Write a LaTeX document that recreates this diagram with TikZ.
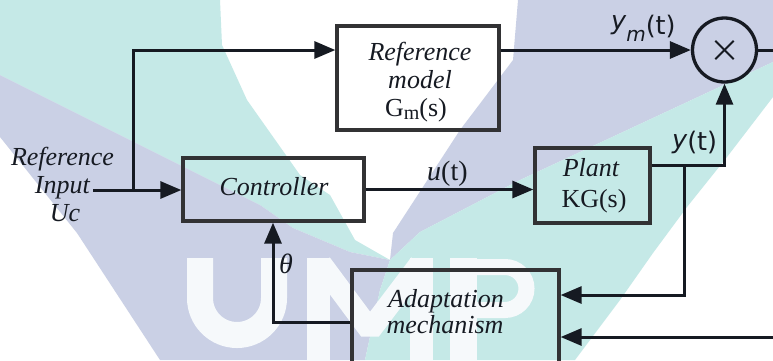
\documentclass[tikz,border=0pt]{standalone}
\usepackage{fontspec}
\setmainfont{Liberation Serif}
\newfontfamily\sigfam{DejaVu Sans}
\usetikzlibrary{arrows.meta}

\definecolor{wmteal}{RGB}{197,233,231}
\definecolor{wmlav}{RGB}{202,208,229}
\definecolor{wmwhite}{RGB}{246,249,251}
\definecolor{ink}{RGB}{22,26,34}
\definecolor{boxline}{RGB}{50,50,52}

\begin{document}
\begin{tikzpicture}[x=1pt,y=-1pt,
  wire/.style={line width=3pt, draw=ink},
  arr/.style={wire, -{Triangle[length=21pt,width=17pt]}},
  blk/.style={draw=boxline, line width=3.3pt, inner sep=0pt},
  lbl/.style={inner sep=0pt, text=ink, font=\fontsize{26}{28}\selectfont\itshape},
  lblup/.style={inner sep=0pt, text=ink, font=\fontsize{26}{28}\selectfont},
  sig/.style={inner sep=0pt, anchor=base west, text=ink, font=\fontsize{28}{28}\selectfont},
  sigsans/.style={sig, font=\sigfam\fontsize{25.5}{25.5}\selectfont},
]
\path[use as bounding box] (0,0) rectangle (773,360);
\clip (0,0) rectangle (773,360);

% background logo bands
\fill[white] (0,0) rectangle (773,360);
\fill[wmteal] (0,0) -- (220,0) -- (222,45) -- (247,100) -- (300,175) -- (330,195)
  -- (355,240) -- (390,260) -- (350,252) -- (293,228) -- (260,205) -- (130,140) -- (0,75) -- cycle;
\fill[wmlav] (0,75) -- (130,140) -- (260,205) -- (293,228) -- (350,252) -- (390,260)
  -- (380,290) -- (365,360) -- (160,360) -- (77,233) -- (0,137) -- cycle;
\fill[wmlav] (518,0) -- (773,0) -- (773,62) -- (520,180) -- (420,232) -- (390,260)
  -- (393,233) -- (460,130) -- (513,60) -- cycle;
\fill[wmteal] (390,260) -- (420,232) -- (520,180) -- (773,62) -- (773,97) -- (727,157)
  -- (687,207) -- (653,253) -- (620,300) -- (575,360) -- (365,360) -- (380,290) -- cycle;

% letters of the logo
\begin{scope}[wmwhite]
  \draw[line width=26pt] (200,258) -- (200,298) arc[start angle=180, end angle=360, radius=37pt] -- (274,258);
  \fill (307,258) rectangle (330,360);
  \fill (410,258) rectangle (433,360);
  \draw[line width=22pt, line join=bevel] (321,264) -- (370,330) -- (420,264);
  \fill (450,258) rectangle (477,360);
  \draw[line width=16pt] (463,267) -- (505,267) arc[start angle=90, end angle=-90, radius=21.5pt] -- (463,310);
\end{scope}

% blocks
\node[blk, minimum width=162pt, minimum height=104pt] (refmod) at (418,78) {};
\node[blk, minimum width=181pt, minimum height=63pt] (ctrl) at (273.5,189.5) {};
\node[blk, minimum width=115pt, minimum height=75pt] (plant) at (592.5,185.5) {};
\node[blk, minimum width=207pt, minimum height=130pt] (adapt) at (455.5,335) {};
\node[draw=ink, circle, line width=3.3pt, minimum size=64pt, inner sep=0pt] (cmp) at (724.5,50) {};
\draw[ink, line width=2pt] ([shift={(45:13pt)}]cmp.center) -- ([shift={(225:13pt)}]cmp.center);
\draw[ink, line width=2pt] ([shift={(135:13pt)}]cmp.center) -- ([shift={(315:13pt)}]cmp.center);

% block texts
\node[lbl, anchor=base] (riA) at (62.5,165) {Reference};
\node[lbl, anchor=base east] (riB) at (90,193) {Input};
\node[lbl, anchor=base] (riC) at (65,221) {Uc};
\node[lbl, anchor=base] (rmA) at (420,60) {Reference};
\node[lbl, anchor=base] (rmB) at (420,88) {model};
\node[lblup, anchor=base] (rmC) at (416,116) {G\raisebox{-3pt}{\fontsize{20}{20}\selectfont m}(s)};
\node[lbl, anchor=base] (ctA) at (274,195) {Controller};
\node[lbl, anchor=base] (plA) at (591,176) {Plant};
\node[lblup, anchor=base] (plB) at (594,207) {KG(s)};
\node[lbl, anchor=base] (adA) at (446,307) {Adaptation};
\node[lbl, anchor=base] (adB) at (445,333) {mechanism};

% signal labels
\node[sig] (ulbl) at (427,180) {\textit{u}(t)};
\node[sigsans] (ymlbl) at (611,34) {\raisebox{5pt}{\itshape y}\raisebox{-7pt}{\fontsize{20}{20}\selectfont\itshape m}(t)};
\node[sigsans] (ylbl) at (672,150) {\raisebox{2pt}{\itshape y}(t)};
\node[sig] (thlbl) at (279,273) {\textit{θ}};

% connectors
\coordinate (inp) at (93,190);
\coordinate (split) at (133,190);
\coordinate (eout) at (773,50);
\coordinate (br) at (684,165);
\coordinate (fb) at (684,295);
\coordinate (ein) at (773,337);
\coordinate (th) at (273,322);

\draw[arr] (inp) -- (inp -| ctrl.west);
\draw[arr] (split) |- (refmod.west |- cmp.center);
\draw[arr] (refmod.east |- cmp.center) -- (cmp.west);
\draw[wire] (cmp.east) -- (eout);
\draw[arr] (ctrl.east) -- (ctrl.east -| plant.west);
\draw[arr] (plant.east |- br) -- (br) -| (cmp.south);
\draw[arr] (br) -- (fb) -- (fb -| adapt.east);
\draw[arr] (ein) -- (ein -| adapt.east);
\draw[arr] (adapt.west |- th) -- (th) -- (th |- ctrl.south);
\end{tikzpicture}
\end{document}
